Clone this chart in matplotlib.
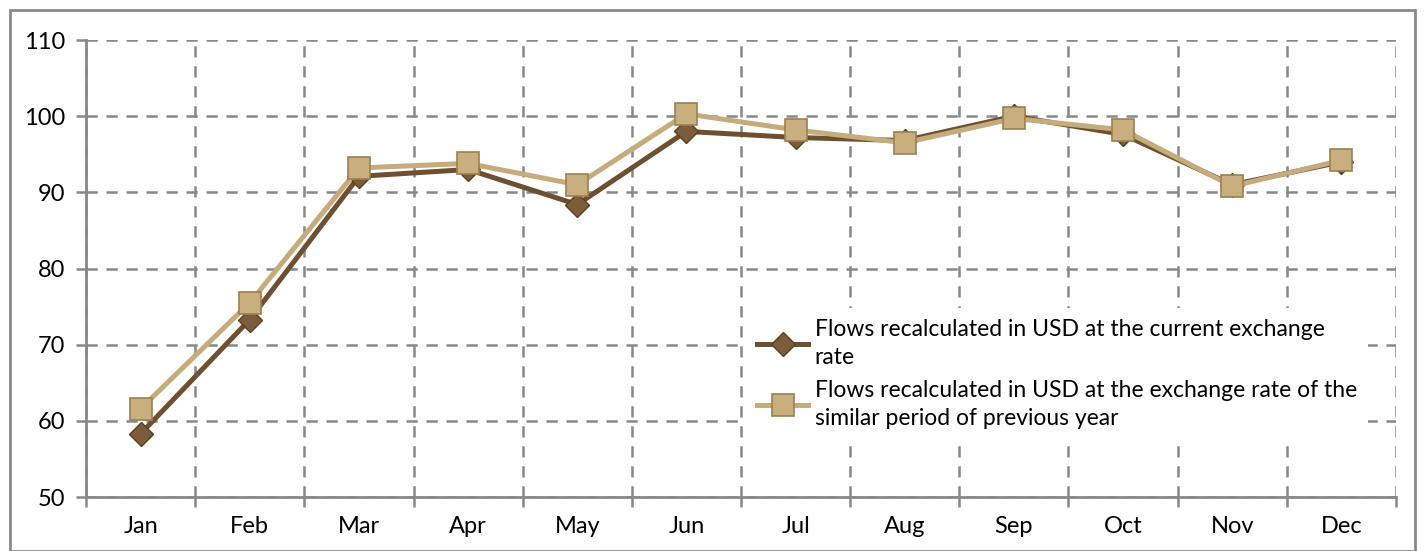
import matplotlib
matplotlib.use("Agg")
import matplotlib.pyplot as plt
from matplotlib.patches import Rectangle

# monthly flows, index values
months = ['Jan', 'Feb', 'Mar', 'Apr', 'May', 'Jun', 'Jul', 'Aug', 'Sep', 'Oct', 'Nov', 'Dec']
current_rate = [58.3, 73.3, 92.1, 93.0, 88.4, 98.0, 97.2, 96.8, 100.0, 97.6, 91.0, 94.0]
prev_year_rate = [61.6, 75.5, 93.2, 93.8, 91.0, 100.3, 98.2, 96.5, 99.7, 98.2, 90.8, 94.2]
label_cur = 'Flows recalculated in USD at the current exchange\nrate'
label_prev = 'Flows recalculated in USD at the exchange rate of the\nsimilar period of previous year'

plt.rcParams['font.family'] = ['Lato', 'DejaVu Sans']

fig = plt.figure(figsize=(14.25, 5.51), dpi=100)
ax = fig.add_axes([0.0604, 0.098, 0.9192, 0.8294])

x = list(range(len(months)))
ax.plot(x, current_rate, color='#6e4f2f', lw=3.6, marker='D', ms=12,
        mfc='#7d5c3a', mec='#5a3f22', mew=1, label=label_cur, zorder=3)
ax.plot(x, prev_year_rate, color='#c6ab7c', lw=3.6, marker='s', ms=16,
        mfc='#c9af7e', mec='#9c8050', mew=1.2, label=label_prev, zorder=4)

ax.set_xlim(-0.5, len(months) - 0.5)
ax.set_ylim(50, 110)
ax.set_yticks(range(50, 111, 10))
ax.set_xticks(x)
ax.set_xticklabels(months)
ax.set_xticks([i - 0.5 for i in range(len(months) + 1)], minor=True)

# dashed grid: horizontal at values, vertical at category borders
ax.grid(axis='y', which='major', ls=(0, (4.5, 3.5)), color='#888888', lw=1.8)
ax.grid(axis='x', which='minor', ls=(0, (4.5, 3.5)), color='#888888', lw=1.8)
ax.tick_params(axis='x', which='major', length=0, pad=14, labelsize=17)
ax.tick_params(axis='x', which='minor', length=7, width=1.8, color='#888888')
ax.tick_params(axis='y', length=7, width=1.8, color='#888888', labelsize=17, pad=8)

for side in ['top', 'right']:
    ax.spines[side].set_visible(False)
for side in ['left', 'bottom']:
    ax.spines[side].set_color('#888888')
    ax.spines[side].set_linewidth(2)

leg = ax.legend(loc='lower left', bbox_to_anchor=(0.495, 0.098), frameon=True,
                fancybox=False, edgecolor='none', facecolor='white', framealpha=1,
                fontsize=16.5, handlelength=2.2, handletextpad=0.3,
                labelspacing=0.55, borderpad=0.5)
for t in leg.get_texts():
    t.set_linespacing(1.4)

fig.patches.append(Rectangle((0.007, 0.0), 0.986, 0.982, transform=fig.transFigure,
                             fill=False, edgecolor='#8a8a8a', lw=2))

fig.savefig('out.png', dpi=100)
